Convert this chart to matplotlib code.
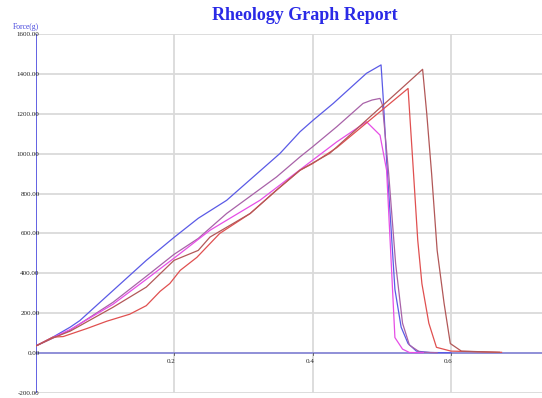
import matplotlib
matplotlib.use("Agg")
import matplotlib.pyplot as plt
from matplotlib.transforms import offset_copy

# ---- data ----
blue_x = [0, 0.025, 0.05, 0.064, 0.112, 0.16, 0.2, 0.235, 0.276, 0.353, 0.382, 0.401, 0.43, 0.478, 0.499,
          0.502, 0.507, 0.513, 0.519, 0.528, 0.538, 0.55, 0.57, 0.6]
blue_y = [35, 80, 130, 163, 314, 465, 580, 676, 766, 1001, 1110, 1168, 1252, 1403, 1445,
          1285, 967, 650, 320, 130, 48, 10, 3, 2]

purple_x = [0, 0.025, 0.05, 0.112, 0.16, 0.2, 0.235, 0.276, 0.348, 0.382, 0.4, 0.435, 0.473, 0.486, 0.4975,
            0.501, 0.51, 0.52, 0.53, 0.54, 0.555, 0.58]
purple_y = [35, 75, 115, 255, 385, 495, 575, 700, 883, 984, 1034, 1135, 1252, 1269, 1277,
            1244, 900, 450, 150, 40, 5, 2]

magenta_x = [0, 0.025, 0.05, 0.112, 0.16, 0.209, 0.252, 0.324, 0.4, 0.435, 0.478, 0.4975,
             0.507, 0.513, 0.519, 0.53, 0.54, 0.56]
magenta_y = [35, 78, 118, 245, 370, 500, 616, 766, 967, 1059, 1160, 1093,
             917, 500, 78, 20, 3, 2]

red_x = [0, 0.025, 0.04, 0.074, 0.103, 0.136, 0.16, 0.18, 0.194, 0.209, 0.233, 0.266, 0.31, 0.348, 0.382,
         0.4, 0.435, 0.48, 0.538, 0.545, 0.552, 0.558, 0.568, 0.579, 0.6, 0.673]
red_y = [35, 80, 83, 123, 160, 195, 238, 310, 349, 415, 480, 600, 700, 817, 917,
         950, 1030, 1160, 1327, 950, 565, 348, 150, 29, 10, 4]

brown_x = [0, 0.025, 0.05, 0.112, 0.16, 0.2, 0.235, 0.252, 0.31, 0.348, 0.382, 0.425, 0.48, 0.526, 0.559,
           0.565, 0.572, 0.58, 0.59, 0.599, 0.615, 0.67]
brown_y = [35, 76, 110, 230, 331, 465, 515, 582, 700, 817, 917, 1002, 1175, 1319, 1423,
           1200, 900, 515, 250, 48, 10, 4]

y_ticks = [-200, 0, 200, 400, 600, 800, 1000, 1200, 1400, 1600]
y_labels = ["-200.00", "0.00", "200.00", "400.00", "600.00", "800.00", "1000.00", "1200.00", "1400.00", "1600.00"]
x_ticks = [0.2, 0.4, 0.6]
x_labels = ["0.2", "0.4", "0.6"]

series = [
    (blue_x, blue_y, "#5a5ae6"),
    (purple_x, purple_y, "#a862a8"),
    (magenta_x, magenta_y, "#e64ee6"),
    (red_x, red_y, "#e05050"),
    (brown_x, brown_y, "#b25858"),
]

W, H = 542, 398
fig = plt.figure(figsize=(W / 100, H / 100), dpi=100)
ax_l, ax_r, ax_t, ax_b = 35.5, 542, 34, 393
ax = fig.add_axes([ax_l / W, 1 - ax_b / H, (ax_r - ax_l) / W, (ax_b - ax_t) / H])
ax.set_xlim(0, (ax_r - ax_l) / 692.5)
ax.set_ylim(-200, 1600)
for s in ax.spines.values():
    s.set_visible(False)

# grid
for yt in y_ticks:
    ax.axhline(yt, color="#dadada", lw=1.3, zorder=0)
for xt in x_ticks:
    ax.axvline(xt, color="#dadada", lw=1.3, zorder=0)

# axes lines
ax.axhline(0, color="#8a8ad8", lw=1.3, zorder=1)
ax.axvline(0, color="#5555e0", lw=1.3, zorder=1)

for xs, ys, c in series:
    ax.plot(xs, ys, color=c, lw=0.9, zorder=3)

ax.set_yticks(y_ticks)
ax.set_yticklabels(y_labels, fontfamily="Liberation Serif", fontsize=5, color="#222222")
ax.tick_params(axis="y", length=0, pad=-3)
ax.set_xticks([])

# x tick labels under the zero line
tr = offset_copy(ax.transData, fig=fig, x=0, y=-4, units="points")
for xt, lab in zip(x_ticks, x_labels):
    ax.text(xt - 0.004, 0, lab, transform=tr, ha="center", va="top",
            fontfamily="Liberation Serif", fontsize=5, color="#222222")
    ax.plot([xt, xt], [0, -8], color="#555555", lw=0.6, zorder=2)

fig.text(305 / W, 1 - 15 / H, "Rheology Graph Report", ha="center", va="center",
         fontfamily="Liberation Serif", fontweight="bold", fontsize=13, color="#2a2ae6")
fig.text(13 / W, 1 - 27 / H, "Force(g)", ha="left", va="center",
         fontfamily="Liberation Serif", fontsize=5.5, color="#4444dd")

fig.savefig("out.png", dpi=100)
